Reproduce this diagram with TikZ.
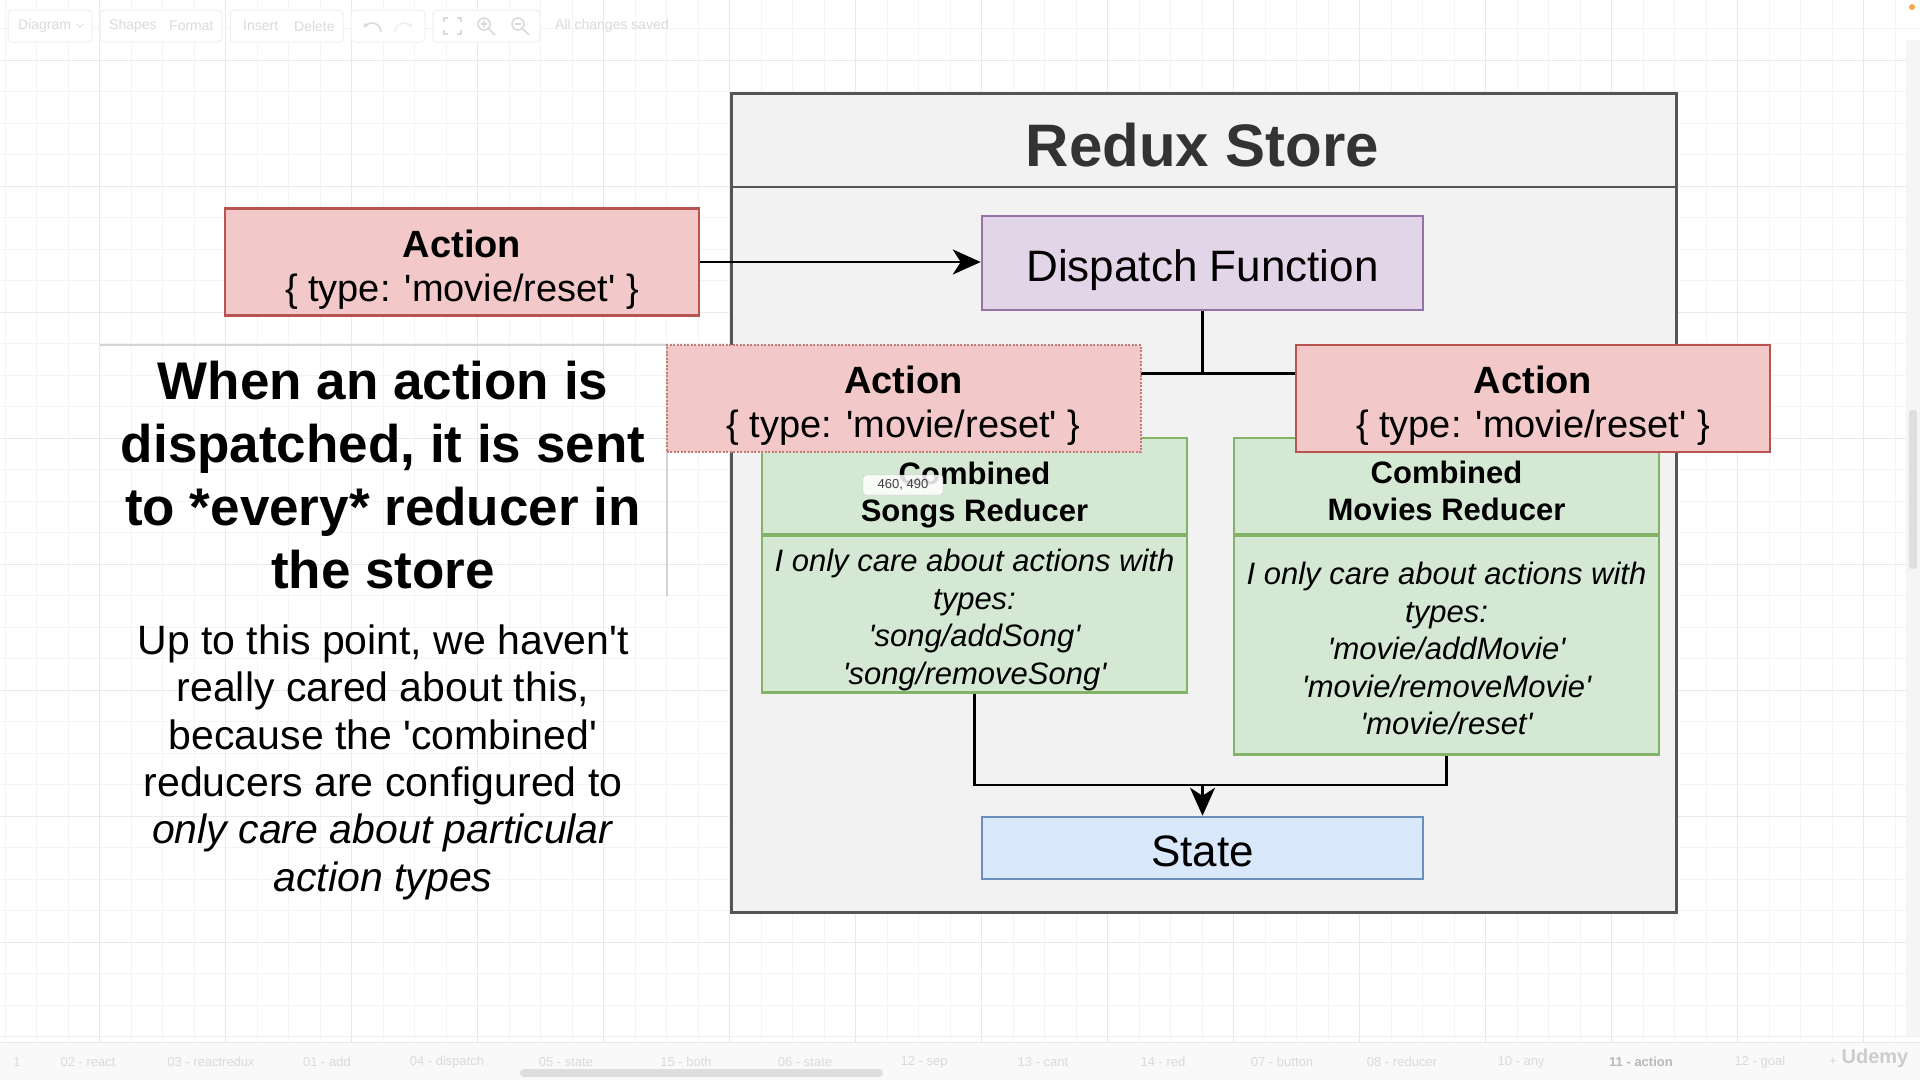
\documentclass[tikz,border=0pt]{standalone}
\usepackage{fontspec}
\setmainfont{Liberation Sans}
\newfontfamily\hv{Liberation Sans}
\usetikzlibrary{arrows.meta}
\definecolor{actfill}{HTML}{F2C9C8}
\definecolor{actline}{HTML}{B85450}
\definecolor{selline}{HTML}{C47A76}
\definecolor{dspfill}{HTML}{E1D5E7}
\definecolor{dspline}{HTML}{9673A6}
\definecolor{grnfill}{HTML}{D5E8D4}
\definecolor{grnline}{HTML}{82B366}
\definecolor{blufill}{HTML}{DAE8FC}
\definecolor{bluline}{HTML}{6C8EBF}
\definecolor{stofill}{HTML}{F2F2F2}
\definecolor{stoline}{HTML}{555555}
\definecolor{titlecol}{HTML}{333333}
\definecolor{gridmin}{HTML}{F4F4F4}
\definecolor{gridmaj}{HTML}{E9E9E9}
\definecolor{uifaint}{HTML}{DADADA}
\definecolor{uiline}{HTML}{EFEFEF}
\definecolor{hintline}{HTML}{D4D4D4}
\newcommand\fs[2]{\fontsize{#1}{#2}\selectfont}
\newcommand\strutup[1]{\rule{0pt}{#1pt}}
\tikzset{
  box/.style={draw, line width=2.5pt, inner sep=0pt, align=center, text=black},
  actbox/.style={box, fill=actfill, draw=actline, minimum width=474pt, minimum height=107pt, font=\hv\fs{38}{44}},
  dspbox/.style={box, fill=dspfill, draw=dspline, minimum width=441pt, minimum height=94pt, font=\hv\fs{44}{50}},
  stabox/.style={box, fill=blufill, draw=bluline, minimum width=441pt, minimum height=62pt, font=\hv\fs{44}{50}},
  redhead/.style={box, fill=grnfill, draw=grnline, minimum width=425pt, minimum height=96pt, font=\hv\bfseries\fs{31}{37}},
  redbody/.style={box, fill=grnfill, draw=grnline, minimum width=425pt, anchor=north, font=\hv\itshape\fs{31}{37.6}},
  conn/.style={draw=black, line width=2.6pt},
  tipped/.style={conn, -{Stealth[length=28pt, width=25pt, inset=8pt]}},
  gmin/.style={draw=gridmin, line width=1pt},
  gmaj/.style={draw=gridmaj, line width=1pt},
  uitext/.style={font=\hv\fs{14}{16}, text=uifaint, inner sep=0pt},
  tabtext/.style={font=\hv\fs{13}{15}, text=uifaint, inner sep=0pt},
  uigroup/.style={draw=uiline, fill=white, line width=1pt, rounded corners=4pt},
  uiicon/.style={draw=uifaint, line width=1.6pt},
}
\begin{document}
\begin{tikzpicture}[x=1pt, y=-1pt]
\useasboundingbox (0,0) rectangle (1920,1080);
\fill[white] (0,0) rectangle (1920,1080);
% grid
\foreach \k in {0,...,60} {\draw[gmin] ({5+31.5*\k},0) -- ({5+31.5*\k},1080);}
\foreach \k in {0,...,34} {\draw[gmin] (0,{-3+31.5*\k}) -- (1920,{-3+31.5*\k});}
\foreach \k in {0,...,14} {\draw[gmaj] ({99.5+126*\k},0) -- ({99.5+126*\k},1080);}
\foreach \k in {0,...,8} {\draw[gmaj] (0,{60+126*\k}) -- (1920,{60+126*\k});}

% toolbar (faint)
\draw[uigroup] (8,10) rectangle (92,42);
\draw[uigroup] (100,10) rectangle (222,42);
\draw[uigroup] (230,10) rectangle (343,42);
\draw[uigroup] (351,10) rectangle (425,42);
\draw[uigroup] (433,10) rectangle (540,42);
\node[uitext, anchor=west] (tbdiag) at (18,26) {Diagram};
\draw[uiicon, line width=1pt] (77,24) -- (80,27) -- (83,24);
\node[uitext, anchor=west] (tbshapes) at (109,26) {Shapes};
\node[uitext, anchor=west] (tbformat) at (169,26) {Format};
\node[uitext, anchor=west] (tbinsert) at (243,26) {Insert};
\node[uitext, anchor=west] (tbdelete) at (294,26) {Delete};
\draw[uiicon, -{Stealth[length=4pt,width=5pt]}] (381,32) arc[start angle=0, end angle=150, radius=9pt];
\draw[uiicon, draw=uiline, -{Stealth[length=4pt,width=5pt]}] (395,32) arc[start angle=180, end angle=30, radius=9pt];
\draw[uiicon] (444,22) -- (444,18) -- (448,18) (457,18) -- (461,18) -- (461,22) (461,30) -- (461,34) -- (457,34) (448,34) -- (444,34) -- (444,30);
\draw[uiicon] (484,24) circle[radius=6pt] (488.5,28.5) -- (495,35) (481,24) -- (487,24) (484,21) -- (484,27);
\draw[uiicon] (518,24) circle[radius=6pt] (522.5,28.5) -- (529,35) (515,24) -- (521,24);
\node[uitext, anchor=west] (tbsaved) at (555,26) {All changes saved};

% right scrollbar
\fill[white!96!black] (1906,40) rectangle (1920,1036);
\fill[white!87!black, rounded corners=3pt] (1909,410) rectangle (1917,569);
\fill[orange!70] (1912,7) circle[radius=3pt];

% bottom tab bar (faint)
\fill[white!97.5!black] (0,1042) rectangle (1920,1080);
\draw[draw=uiline, line width=1pt] (0,1036) -- (1920,1036);
\draw[draw=white!91!black, line width=1pt] (0,1042) -- (1920,1042);
\foreach \xx/\lab in {17/1, 88/02 - react, 211/03 - reactredux, 327/01 - add, 447/04 - dispatch, 566/05 - state, 686/15 - both, 805/06 - state, 924/12 - sep, 1043/13 - cant, 1163/14 - red, 1282/07 - button, 1402/08 - reducer, 1521/10 - any, 1760/12 - goal, 1833/+}
  {\node[tabtext] at (\xx,1062) {\lab};}
\node[tabtext, text=white!72!black, font=\hv\bfseries\fs{13}{15}] (curtab) at (1641,1062) {11 - action};
\node[font=\hv\bfseries\fs{20}{22}, text=white!80!black] (udemy) at (1875,1058) {Udemy};
\fill[white!87!black, rounded corners=4pt] (520,1069) rectangle (883,1077);

% left text box hint border
\draw[draw=hintline, line width=1.5pt] (100,345) -- (667,345) -- (667,596);

% store container
\node[draw=stoline, fill=stofill, line width=2.5pt, minimum width=945pt, minimum height=819pt, anchor=north west, inner sep=0pt] (store) at (730,92) {};
\draw[draw=stoline, line width=2.5pt] ([yshift=-95pt]store.north west) -- ([yshift=-95pt]store.north east);
\node[font=\hv\bfseries\fs{60}{72}, text=titlecol] (title) at (1202.5,145) {Redux Store};

% left texts
\node[font=\hv\bfseries\fs{53}{63}, align=center, text=black] (headline) at (383,475) {When an action is\\dispatched, it is sent\\to *every* reducer in\\the store};
\node[font=\hv\fs{41}{47.3}, align=center, text=black] (para) at (383,757) {\strutup{40}Up to this point, we haven't\\really cared about this,\\because the 'combined'\\reducers are configured to\\\textit{only care about particular}\\\textit{action types}};

% main nodes
\node[actbox] (act1) at (462,262) {\strutup{42}\textbf{Action}\\\{ type: 'movie/reset' \}};
\node[dspbox] (disp) at (1202.5,263) {\strutup{46.6}Dispatch Function};
\node[stabox] (state) at (1202.5,848) {\strutup{37.3}State};

\node[redhead] (songsh) at (974.5,486) {\strutup{39.8}Combined\\Songs Reducer};
\node[redbody, minimum height=157pt] (songsb) at (974.5,534) {\strutup{34.6}I only care about actions with\\types:\\'song/addSong'\\'song/removeSong'};
\node[redhead] (moviesh) at (1446.5,486) {\strutup{32.6}Combined\\Movies Reducer};
\node[redbody, minimum height=219pt] (moviesb) at (1446.5,534) {\strutup{30}I only care about actions with\\types:\\'movie/addMovie'\\'movie/removeMovie'\\'movie/reset'};

% connectors
\coordinate (jn) at (1202.5,373.5);
\coordinate (mg) at (1202.5,785);
\draw[tipped] (act1.east) -- (act1.east -| disp.west);
\draw[conn] (disp.south) -- (jn);
\draw[conn] (jn) -| (songsh.north);
\draw[conn] (jn) -| (moviesh.north);
\draw[conn] (songsb.south) |- (mg);
\draw[conn] (moviesb.south) |- (mg);
\draw[tipped] (mg) -- (state.north);

% overlapping action boxes
\node[actbox, draw=selline, line width=2pt, dash pattern=on 2pt off 1.5pt] (act2) at (903.5,398.5) {\strutup{42}\textbf{Action}\\\{ type: 'movie/reset' \}};
\node[actbox] (act3) at (1533,398.5) {\strutup{42}\textbf{Action}\\\{ type: 'movie/reset' \}};

% coordinate tooltip
\node[draw=white!78!black, fill=white, fill opacity=0.85, text opacity=1, rounded corners=3pt, minimum width=80pt, minimum height=20pt, inner sep=0pt, font=\hv\fs{13}{15}, text=white!25!black] (tip) at (903,485) {460, 490};
\end{tikzpicture}
\end{document}
